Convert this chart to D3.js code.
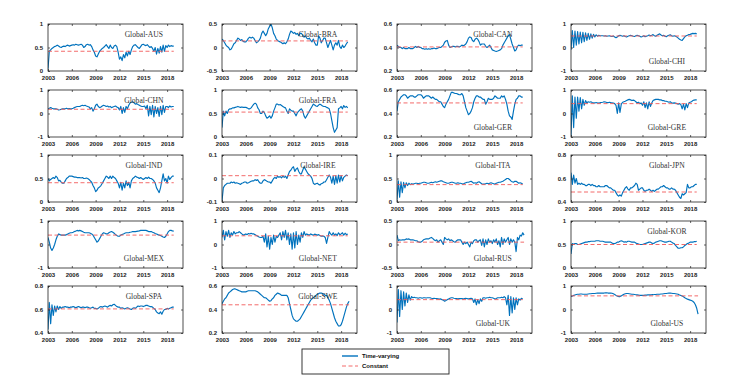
<!DOCTYPE html>
<html>
<head>
<meta charset="utf-8">
<script src="https://cdn.jsdelivr.net/npm/d3@7"></script>
<style>
  html, body { margin: 0; padding: 0; background: #fff; }
  svg { display: block; }
  .tick text { font-family: "Liberation Sans", Arial, sans-serif; font-weight: bold; font-size: 6px; fill: #222; }
  .tick line { stroke: #222; stroke-width: 0.7; }
  .ptitle { font-family: "Liberation Serif", "Times New Roman", serif; font-size: 7.6px; fill: #333; }
  .leg { font-family: "Liberation Sans", Arial, sans-serif; font-weight: bold; font-size: 6px; fill: #111; }
</style>
</head>
<body>
<svg id="chart" width="755" height="392"></svg>
<script>
// time axis: first observation in 2003, one value every two months
const startYear = 2003;
const step = 1 / 6;
const yearTicks = [2003, 2006, 2009, 2012, 2015, 2018];
const xDomain = [2003, 2020];

const countries = ["AUS", "BRA", "CAN", "CHI", "CHN", "FRA", "GER", "GRE", "IND", "IRE",
                   "ITA", "JPN", "MEX", "NET", "RUS", "KOR", "SPA", "SWE", "UK", "US"];

const yDomains = [
  [0, 1], [-0.5, 0.5], [0.2, 0.6], [-1, 1],
  [-1, 1], [0, 1], [0.2, 0.6], [-1, 1],
  [0, 1], [-0.1, 0.1], [0, 1], [0.4, 0.8],
  [-1, 1], [-1, 1], [-0.5, 0.5], [0, 1],
  [0.4, 0.8], [0.2, 0.6], [-1, 1], [-1, 1]
];

// constant (full-sample) correlation
const constants = [0.42, 0.14, 0.405, 0.49, 0.18, 0.53, 0.49, 0.42, 0.41, 0.012,
                   0.37, 0.485, 0.4, 0.37, 0.05, 0.5, 0.605, 0.44, 0.42, 0.58];

// time-varying correlation, one row per year
const tvAUS = [
  0.05, 0.42, 0.45, 0.48, 0.5, 0.52,
  0.53, 0.55, 0.53, 0.51, 0.5, 0.52,
  0.53, 0.52, 0.54, 0.55, 0.53, 0.54,
  0.55, 0.56, 0.55, 0.57, 0.56, 0.55,
  0.56, 0.57, 0.55, 0.5, 0.52, 0.56,
  0.57, 0.55, 0.56, 0.52, 0.45, 0.4,
  0.32, 0.3, 0.36, 0.42, 0.45, 0.48,
  0.5, 0.53, 0.56, 0.52, 0.48, 0.55,
  0.5, 0.48, 0.53, 0.55, 0.52, 0.4,
  0.25, 0.3, 0.22, 0.35, 0.28, 0.4,
  0.32, 0.42, 0.35, 0.45, 0.52, 0.55,
  0.56, 0.53, 0.5, 0.48, 0.52, 0.56,
  0.57, 0.55, 0.54, 0.56, 0.53, 0.5,
  0.52, 0.48, 0.42, 0.5, 0.36, 0.48,
  0.38, 0.52, 0.4, 0.55, 0.42, 0.54,
  0.5, 0.55, 0.52, 0.54, 0.53, 0.53
];
const tvBRA = [
  0.18, 0.15, 0.1, 0.05, 0.02, 0.0,
  -0.05, -0.03, 0.02, 0.08, 0.1, 0.15,
  0.2, 0.18, 0.15, 0.17, 0.13, 0.12,
  0.12, 0.15, 0.2, 0.22, 0.2, 0.22,
  0.2, 0.15, 0.1, 0.12, 0.15, 0.2,
  0.3, 0.35, 0.3, 0.25, 0.3, 0.4,
  0.45, 0.5, 0.42, 0.3, 0.25, 0.18,
  0.15, 0.13, 0.12, 0.1, 0.08, 0.1,
  0.08, 0.12, 0.18, 0.28, 0.35, 0.33,
  0.3, 0.32, 0.28, 0.3, 0.25, 0.3,
  0.3, 0.26, 0.22, 0.25, 0.2, 0.18,
  0.2, 0.15, 0.12, 0.18, 0.1, 0.05,
  0.05, 0.25, 0.2, 0.1, 0.15, 0.2,
  0.2, 0.1, 0.0, 0.08, 0.15, 0.05,
  -0.05, 0.05, 0.1, 0.05, 0.15, 0.02,
  -0.02, 0.05, 0.0, 0.03, 0.08, 0.12
];
const tvCAN = [
  0.42, 0.41, 0.4, 0.4, 0.39, 0.4,
  0.39, 0.39, 0.39, 0.4, 0.39, 0.39,
  0.39, 0.4, 0.41, 0.4, 0.41, 0.4,
  0.4, 0.39, 0.39, 0.385, 0.39, 0.385,
  0.39, 0.385, 0.39, 0.39, 0.395, 0.39,
  0.39, 0.395, 0.4, 0.4, 0.41, 0.42,
  0.445, 0.455, 0.46, 0.42, 0.4, 0.405,
  0.41, 0.41, 0.405, 0.41, 0.41, 0.405,
  0.41, 0.42, 0.415, 0.42, 0.43, 0.45,
  0.48, 0.49, 0.485, 0.46, 0.45, 0.47,
  0.48, 0.47, 0.45, 0.42, 0.43, 0.43,
  0.43, 0.41, 0.4, 0.41, 0.42, 0.4,
  0.38, 0.375, 0.37, 0.366, 0.37, 0.375,
  0.38, 0.39, 0.42, 0.44, 0.46, 0.48,
  0.5, 0.51, 0.47, 0.43, 0.4, 0.37,
  0.38, 0.41, 0.42, 0.415, 0.42, 0.42
];
const tvCHI = [
  -0.1, 0.72, 0.0, 0.7, 0.1, 0.68,
  0.15, 0.66, 0.2, 0.65, 0.25, 0.62,
  0.3, 0.6, 0.35, 0.58, 0.4, 0.56,
  0.45, 0.54, 0.48, 0.52, 0.5, 0.5,
  0.5, 0.49, 0.5, 0.48, 0.49, 0.5,
  0.48, 0.47, 0.49, 0.45, 0.42, 0.45,
  0.5, 0.52, 0.5, 0.48, 0.5, 0.47,
  0.45, 0.48, 0.5, 0.52, 0.5, 0.48,
  0.47, 0.5, 0.52, 0.5, 0.48, 0.45,
  0.47, 0.5, 0.46, 0.48, 0.5, 0.53,
  0.5, 0.52, 0.55, 0.5, 0.48, 0.52,
  0.55, 0.58, 0.53, 0.5, 0.52, 0.48,
  0.46, 0.5, 0.52, 0.54, 0.5, 0.48,
  0.5, 0.48, 0.45, 0.4, 0.35, 0.32,
  0.3, 0.38, 0.45, 0.5, 0.52, 0.55,
  0.56, 0.58, 0.6, 0.59, 0.6, 0.58
];
const tvCHN = [
  0.2, 0.22, 0.25, 0.22, 0.2, 0.2,
  0.2, 0.18, 0.15, 0.16, 0.18, 0.2,
  0.2, 0.2, 0.22, 0.2, 0.21, 0.2,
  0.2, 0.22, 0.25, 0.28, 0.3, 0.3,
  0.3, 0.33, 0.35, 0.33, 0.35, 0.32,
  0.3, 0.28, 0.2, 0.25, 0.1, 0.2,
  0.35, 0.4, 0.3, 0.25, 0.28, 0.32,
  0.35, 0.33, 0.3, 0.32, 0.28, 0.3,
  0.25, 0.28, 0.3, 0.32, 0.28, 0.25,
  0.15, 0.3, 0.0, 0.25, 0.05, 0.3,
  0.2, 0.35, 0.45, 0.48, 0.5, 0.45,
  0.4, 0.42, 0.38, 0.35, 0.32, 0.3,
  0.3, 0.32, 0.2, 0.35, -0.1, 0.3,
  -0.05, 0.35, -0.15, 0.3, 0.0, 0.25,
  -0.12, 0.3, -0.05, 0.35, 0.05, 0.3,
  0.3, 0.25, 0.32, 0.28, 0.3, 0.3
];
const tvFRA = [
  0.2, 0.55, 0.45, 0.55, 0.5, 0.58,
  0.6, 0.6, 0.62, 0.62, 0.63, 0.64,
  0.65, 0.64, 0.63, 0.64, 0.63, 0.63,
  0.63, 0.62, 0.6, 0.6, 0.62, 0.66,
  0.7, 0.72, 0.7, 0.62, 0.58, 0.5,
  0.5, 0.55, 0.52, 0.45, 0.4, 0.42,
  0.45, 0.4, 0.45, 0.55, 0.62, 0.7,
  0.7, 0.68, 0.69, 0.67, 0.65, 0.63,
  0.62, 0.55, 0.5, 0.6, 0.57, 0.55,
  0.55, 0.5, 0.45, 0.52, 0.55, 0.58,
  0.6, 0.55, 0.45, 0.4, 0.45, 0.5,
  0.55, 0.6, 0.65, 0.7, 0.68, 0.66,
  0.65, 0.68, 0.7, 0.68, 0.66, 0.65,
  0.65, 0.63, 0.62, 0.6, 0.5, 0.35,
  0.2, 0.1, 0.15, 0.2, 0.6, 0.62,
  0.65, 0.6, 0.67, 0.63, 0.65, 0.62
];
const tvGER = [
  0.42, 0.5, 0.52, 0.54, 0.55, 0.56,
  0.56, 0.55, 0.53, 0.54, 0.55, 0.55,
  0.55, 0.54, 0.54, 0.55, 0.56, 0.56,
  0.56, 0.55, 0.53, 0.54, 0.55, 0.55,
  0.55, 0.54, 0.53, 0.54, 0.53, 0.52,
  0.52, 0.51, 0.5, 0.5, 0.48, 0.46,
  0.45, 0.48, 0.5, 0.52, 0.55, 0.58,
  0.58, 0.575, 0.57, 0.57, 0.565, 0.56,
  0.56, 0.57, 0.55, 0.5, 0.45, 0.42,
  0.39, 0.4, 0.42, 0.45, 0.5, 0.53,
  0.55, 0.55, 0.54, 0.54, 0.53, 0.52,
  0.52, 0.48, 0.5, 0.53, 0.52, 0.52,
  0.52, 0.53, 0.55, 0.54, 0.53, 0.53,
  0.53, 0.55, 0.54, 0.55, 0.52, 0.48,
  0.42, 0.38, 0.37, 0.35, 0.42, 0.48,
  0.52, 0.53, 0.55, 0.55, 0.54, 0.54
];
const tvGRE = [
  -0.95, 0.75, -0.6, 0.7, -0.2, 0.7,
  0.1, 0.68, 0.2, 0.6, 0.35, 0.55,
  0.45, 0.5, 0.48, 0.5, 0.47, 0.45,
  0.45, 0.47, 0.45, 0.44, 0.46, 0.47,
  0.48, 0.5, 0.49, 0.47, 0.46, 0.48,
  0.47, 0.45, 0.44, 0.42, 0.35, 0.0,
  0.45, 0.05, 0.4, 0.48, 0.5, 0.52,
  0.55, 0.58, 0.6, 0.58, 0.55, 0.57,
  0.55, 0.5, 0.45, 0.48, 0.42, 0.45,
  0.35, 0.5, 0.25, 0.45, 0.2, 0.5,
  0.3, 0.45, 0.55, 0.58, 0.6, 0.6,
  0.6, 0.58, 0.58, 0.55, 0.55, 0.52,
  0.52, 0.5, 0.48, 0.5, 0.45, 0.44,
  0.45, 0.44, 0.42, 0.4, 0.42, 0.38,
  0.2, 0.4, 0.15, 0.42, 0.25, 0.45,
  0.48, 0.5, 0.55, 0.57, 0.58, 0.58
];
const tvIND = [
  0.5, 0.45, 0.48, 0.5, 0.52, 0.5,
  0.55, 0.52, 0.45, 0.46, 0.42, 0.4,
  0.4, 0.45, 0.5, 0.52, 0.55, 0.55,
  0.55, 0.54, 0.53, 0.53, 0.52, 0.52,
  0.52, 0.51, 0.52, 0.5, 0.5, 0.51,
  0.5, 0.48, 0.45, 0.42, 0.35, 0.3,
  0.22, 0.25, 0.3, 0.32, 0.35, 0.4,
  0.45, 0.5, 0.55, 0.53, 0.5, 0.55,
  0.5, 0.55, 0.52, 0.5, 0.45, 0.4,
  0.3, 0.42, 0.25, 0.4, 0.3, 0.45,
  0.35, 0.42, 0.3, 0.45, 0.5, 0.52,
  0.55, 0.53, 0.52, 0.5, 0.52, 0.5,
  0.48, 0.5, 0.52, 0.5, 0.53, 0.5,
  0.5, 0.48, 0.45, 0.4, 0.3, 0.25,
  0.2, 0.3, 0.45, 0.6, 0.45, 0.5,
  0.4, 0.55, 0.48, 0.52, 0.55, 0.55
];
const tvIRE = [
  -0.095, -0.04, -0.03, -0.025, -0.02, -0.02,
  -0.02, -0.015, -0.018, -0.015, -0.02, -0.018,
  -0.02, -0.022, -0.025, -0.02, -0.018, -0.015,
  -0.015, -0.02, -0.018, -0.015, -0.012, -0.01,
  -0.01, -0.005, -0.008, -0.005, -0.015, -0.02,
  -0.02, -0.01, -0.005, -0.008, -0.012, -0.015,
  -0.015, -0.02, -0.01, 0.0, 0.005, 0.0,
  0.01, 0.005, 0.008, 0.003, 0.01, 0.005,
  0.01, 0.0, 0.015, 0.03, 0.035, 0.045,
  0.05, 0.03, 0.04, 0.045, 0.03, 0.02,
  0.02, 0.035, 0.05, 0.04, 0.03, 0.02,
  0.015, 0.01, 0.0, -0.02, -0.025, -0.022,
  -0.02, -0.025, -0.028, -0.022, -0.02, -0.015,
  -0.015, -0.005, 0.005, 0.015, 0.005, -0.02,
  0.01, -0.025, 0.012, -0.02, 0.015, -0.015,
  0.012, -0.01, 0.005, 0.01, 0.015, 0.012
];
const tvITA = [
  0.05, 0.45, 0.1, 0.43, 0.2, 0.42,
  0.3, 0.41, 0.35, 0.4, 0.37, 0.39,
  0.38, 0.39, 0.4, 0.4, 0.39, 0.4,
  0.4, 0.41, 0.42, 0.42, 0.41, 0.4,
  0.4, 0.41, 0.42, 0.41, 0.42, 0.43,
  0.42, 0.43, 0.44, 0.45, 0.45, 0.43,
  0.42, 0.41, 0.4, 0.4, 0.41, 0.42,
  0.42, 0.41, 0.4, 0.4, 0.41, 0.4,
  0.4, 0.39, 0.38, 0.4, 0.41, 0.42,
  0.42, 0.43, 0.44, 0.42, 0.4, 0.41,
  0.4, 0.42, 0.43, 0.41, 0.39, 0.38,
  0.38, 0.39, 0.4, 0.39, 0.4, 0.41,
  0.4, 0.39, 0.38, 0.4, 0.41, 0.42,
  0.42, 0.43, 0.44, 0.46, 0.48, 0.5,
  0.5, 0.48, 0.45, 0.43, 0.42, 0.44,
  0.44, 0.42, 0.4, 0.41, 0.4, 0.38
];
const tvJPN = [
  0.65, 0.55, 0.63, 0.56, 0.6, 0.55,
  0.56, 0.55, 0.56, 0.55, 0.55, 0.54,
  0.54, 0.55, 0.55, 0.54, 0.55, 0.54,
  0.54, 0.53, 0.53, 0.54, 0.53, 0.53,
  0.53, 0.53, 0.54, 0.54, 0.53, 0.52,
  0.52, 0.51, 0.5, 0.5, 0.48, 0.46,
  0.45, 0.46, 0.45, 0.48, 0.5, 0.52,
  0.53, 0.51, 0.5, 0.52, 0.52, 0.53,
  0.54, 0.56, 0.55, 0.5, 0.51, 0.52,
  0.52, 0.5, 0.49, 0.5, 0.5, 0.51,
  0.5, 0.49, 0.5, 0.49, 0.5, 0.51,
  0.51, 0.52, 0.53, 0.53, 0.54, 0.53,
  0.52, 0.52, 0.51, 0.51, 0.52, 0.51,
  0.51, 0.5, 0.48, 0.46, 0.44, 0.43,
  0.47, 0.46, 0.47, 0.48, 0.55, 0.52,
  0.52, 0.53, 0.53, 0.54, 0.55, 0.55
];
const tvMEX = [
  0.3, 0.1, -0.15, -0.25, -0.15, 0.0,
  0.2, 0.35, 0.45, 0.42, 0.4, 0.4,
  0.4, 0.4, 0.42, 0.45, 0.48, 0.5,
  0.5, 0.52, 0.55, 0.57, 0.6, 0.58,
  0.6, 0.58, 0.55, 0.52, 0.5, 0.5,
  0.5, 0.5, 0.48, 0.45, 0.4, 0.3,
  0.2, 0.1, 0.15, 0.25, 0.35, 0.45,
  0.5, 0.48, 0.45, 0.45, 0.5, 0.53,
  0.55, 0.52, 0.48, 0.42, 0.38, 0.35,
  0.35, 0.4, 0.43, 0.45, 0.48, 0.5,
  0.5, 0.5, 0.52, 0.53, 0.55, 0.55,
  0.55, 0.56, 0.57, 0.58, 0.6, 0.6,
  0.6, 0.6, 0.6, 0.58, 0.55, 0.55,
  0.55, 0.52, 0.5, 0.47, 0.45, 0.42,
  0.4, 0.38, 0.35, 0.32, 0.3, 0.35,
  0.45, 0.55, 0.6, 0.6, 0.58, 0.57
];
const tvNET = [
  0.3, 0.6, 0.2, 0.55, 0.35, 0.6,
  0.3, 0.5, 0.4, 0.55, 0.45, 0.5,
  0.5, 0.55, 0.5, 0.45, 0.4, 0.42,
  0.45, 0.42, 0.47, 0.45, 0.48, 0.45,
  0.45, 0.42, 0.38, 0.35, 0.32, 0.3,
  0.3, 0.35, 0.1, 0.45, -0.1, 0.35,
  -0.2, 0.3, 0.0, 0.4, 0.1, 0.35,
  0.3, 0.4, 0.5, 0.2, 0.55, 0.3,
  0.6, 0.2, 0.5, 0.0, 0.45, -0.2,
  0.5, -0.15, 0.55, 0.0, 0.4, 0.1,
  0.5, 0.3, 0.55, 0.4, 0.45, 0.42,
  0.4, 0.45, 0.42, 0.4, 0.44, 0.42,
  0.4, 0.42, 0.38, 0.35, 0.36, 0.35,
  0.3, 0.05, 0.3, 0.55, 0.45, 0.4,
  0.5, 0.4, 0.45, 0.38, 0.5, 0.42,
  0.45, 0.5, 0.4, 0.48, 0.42, 0.45
];
const tvRUS = [
  0.2, 0.08, 0.1, 0.09, 0.1, 0.1,
  0.1, 0.12, 0.11, 0.12, 0.1, 0.1,
  0.1, 0.09, 0.08, 0.08, 0.06, 0.05,
  0.05, 0.07, 0.1, 0.11, 0.12, 0.12,
  0.12, 0.14, 0.15, 0.13, 0.1, 0.08,
  0.1, 0.05, 0.08, 0.1, 0.05, 0.0,
  0.15, 0.12, 0.1, 0.12, 0.08, 0.1,
  0.08, 0.06, 0.05, 0.08, 0.1, 0.1,
  0.1, 0.05, 0.0, 0.05, 0.02, 0.05,
  0.0, -0.05, 0.05, 0.02, 0.08, 0.1,
  0.1, 0.05, 0.08, 0.1, -0.02, 0.12,
  -0.05, 0.1, 0.0, 0.12, 0.05, 0.08,
  0.02, 0.1, 0.05, 0.12, 0.0, 0.08,
  -0.05, 0.15, 0.0, 0.12, 0.05, 0.1,
  0.15, 0.0, 0.12, 0.05, 0.1, 0.05,
  -0.15, 0.15, 0.1, 0.2, 0.18, 0.25,
  0.2
];
const tvKOR = [
  0.3, 0.52, 0.5, 0.52, 0.52, 0.5,
  0.5, 0.51, 0.52, 0.53, 0.54, 0.55,
  0.55, 0.56, 0.56, 0.57, 0.57, 0.57,
  0.57, 0.58, 0.58, 0.58, 0.57, 0.57,
  0.57, 0.56, 0.55, 0.55, 0.55, 0.55,
  0.55, 0.53, 0.52, 0.52, 0.53, 0.55,
  0.55, 0.57, 0.58, 0.57, 0.55, 0.56,
  0.55, 0.57, 0.57, 0.56, 0.55, 0.55,
  0.55, 0.53, 0.52, 0.51, 0.5, 0.5,
  0.5, 0.51, 0.52, 0.53, 0.54, 0.55,
  0.55, 0.53, 0.52, 0.53, 0.55, 0.56,
  0.57, 0.58, 0.58, 0.57, 0.56, 0.55,
  0.55, 0.56, 0.57, 0.57, 0.55, 0.53,
  0.52, 0.48, 0.45, 0.42, 0.42, 0.43,
  0.43, 0.45, 0.48, 0.5, 0.52, 0.53,
  0.55, 0.55, 0.55, 0.56, 0.56, 0.57
];
const tvSPA = [
  0.43, 0.66, 0.48, 0.64, 0.55, 0.63,
  0.58, 0.63, 0.6, 0.625, 0.61, 0.62,
  0.62, 0.625, 0.62, 0.62, 0.615, 0.62,
  0.62, 0.625, 0.62, 0.615, 0.62, 0.625,
  0.62, 0.615, 0.62, 0.62, 0.615, 0.62,
  0.62, 0.615, 0.61, 0.615, 0.62, 0.61,
  0.61, 0.605, 0.61, 0.62, 0.625, 0.62,
  0.625, 0.63, 0.625, 0.62, 0.63, 0.635,
  0.63, 0.64, 0.645, 0.635, 0.625, 0.62,
  0.62, 0.61, 0.615, 0.61, 0.605, 0.61,
  0.615, 0.61, 0.605, 0.6, 0.61, 0.615,
  0.61, 0.62, 0.63, 0.625, 0.63, 0.63,
  0.625, 0.63, 0.635, 0.635, 0.63, 0.625,
  0.625, 0.62, 0.61, 0.6, 0.58, 0.57,
  0.565, 0.58, 0.56, 0.585, 0.6, 0.6,
  0.61, 0.605, 0.61, 0.615, 0.62, 0.62
];
const tvSWE = [
  0.45, 0.47, 0.49, 0.5, 0.52, 0.54,
  0.55, 0.56, 0.57, 0.575, 0.575, 0.57,
  0.565, 0.56, 0.555, 0.55, 0.55, 0.55,
  0.55, 0.555, 0.56, 0.56, 0.56, 0.56,
  0.56, 0.56, 0.555, 0.55, 0.54, 0.53,
  0.52, 0.51, 0.5, 0.5, 0.49, 0.48,
  0.47, 0.475, 0.49, 0.5, 0.52, 0.53,
  0.54, 0.535, 0.53, 0.52, 0.52, 0.52,
  0.52, 0.52, 0.5, 0.45, 0.4, 0.35,
  0.32, 0.31, 0.3, 0.3, 0.31, 0.32,
  0.34, 0.36, 0.38, 0.4, 0.42, 0.44,
  0.46, 0.48, 0.49, 0.5, 0.51, 0.52,
  0.53, 0.535, 0.54, 0.54, 0.535, 0.53,
  0.52, 0.52, 0.5, 0.48, 0.45, 0.41,
  0.37, 0.33, 0.3, 0.28, 0.26, 0.26,
  0.27, 0.3, 0.34, 0.38, 0.42, 0.45,
  0.47
];
const tvUK = [
  -0.55, 0.85, -0.3, 0.8, 0.0, 0.75,
  0.15, 0.7, 0.3, 0.62, 0.4, 0.55,
  0.5, 0.52, 0.5, 0.5, 0.48, 0.5,
  0.5, 0.48, 0.5, 0.5, 0.49, 0.5,
  0.5, 0.5, 0.48, 0.47, 0.48, 0.47,
  0.46, 0.45, 0.44, 0.45, 0.42, 0.4,
  0.35, 0.38, 0.42, 0.45, 0.48, 0.5,
  0.5, 0.48, 0.47, 0.46, 0.45, 0.46,
  0.47, 0.46, 0.45, 0.47, 0.48, 0.46,
  0.45, 0.47, 0.48, 0.46, 0.3, 0.45,
  0.2, 0.42, 0.25, 0.45, 0.35, 0.5,
  0.5, 0.48, 0.5, 0.5, 0.52, 0.5,
  0.5, 0.48, 0.45, 0.47, 0.5, 0.5,
  0.5, 0.52, 0.5, 0.55, 0.5, 0.2,
  0.6, -0.25, 0.55, -0.15, 0.5, 0.0,
  0.5, 0.2, 0.45, 0.4, 0.48, 0.45
];
const tvUS = [
  0.55, 0.57, 0.6, 0.62, 0.64, 0.65,
  0.65, 0.66, 0.66, 0.65, 0.65, 0.65,
  0.65, 0.66, 0.67, 0.67, 0.68, 0.68,
  0.68, 0.69, 0.7, 0.7, 0.7, 0.7,
  0.7, 0.7, 0.71, 0.71, 0.7, 0.7,
  0.7, 0.69, 0.67, 0.64, 0.6, 0.57,
  0.55, 0.55, 0.58, 0.62, 0.65, 0.67,
  0.68, 0.68, 0.67, 0.66, 0.65, 0.65,
  0.64, 0.63, 0.62, 0.61, 0.6, 0.6,
  0.6, 0.6, 0.61, 0.61, 0.62, 0.62,
  0.62, 0.63, 0.63, 0.64, 0.64, 0.65,
  0.65, 0.65, 0.66, 0.66, 0.67, 0.68,
  0.68, 0.69, 0.7, 0.7, 0.69, 0.68,
  0.68, 0.67, 0.66, 0.65, 0.62, 0.6,
  0.57, 0.54, 0.5, 0.47, 0.44, 0.42,
  0.4, 0.38, 0.35, 0.3, 0.2, 0.05,
  -0.2
];

const series = [tvAUS, tvBRA, tvCAN, tvCHI, tvCHN, tvFRA, tvGER, tvGRE, tvIND, tvIRE,
                tvITA, tvJPN, tvMEX, tvNET, tvRUS, tvKOR, tvSPA, tvSWE, tvUK, tvUS];

// layout
const colX = [48, 222, 397, 571];
const rowY = [24, 90, 155, 221, 286];
const PW = 135, PH = 47;
const titleBottom = new Set(["CHI", "GER", "GRE", "MEX", "NET", "RUS", "UK", "US"]);
const BLUE = "#0072BD", RED = "#f25a5a";

const svg = d3.select("#chart");
const fmt = v => String(+v.toFixed(2));

countries.forEach((c, i) => {
  const col = i % 4, row = Math.floor(i / 4);
  const dom = yDomains[i];
  const vals = series[i];
  const g = svg.append("g").attr("transform", `translate(${colX[col]},${rowY[row]})`);

  const x = d3.scaleLinear().domain(xDomain).range([0, PW]);
  const y = d3.scaleLinear().domain(dom).range([PH, 0]);
  const yt = [dom[0], (dom[0] + dom[1]) / 2, dom[1]];
  const tOf = j => startYear + j * step;

  g.append("clipPath").attr("id", "clip" + i)
    .append("rect").attr("width", PW).attr("height", PH);

  g.append("path")
    .datum(vals)
    .attr("clip-path", `url(#clip${i})`)
    .attr("fill", "none")
    .attr("stroke", BLUE)
    .attr("stroke-width", 1.15)
    .attr("stroke-linejoin", "round")
    .attr("d", d3.line().x((d, j) => x(tOf(j))).y(d => y(d)));

  g.append("line")
    .attr("x1", x(startYear)).attr("x2", x(tOf(vals.length - 1)))
    .attr("y1", y(constants[i])).attr("y2", y(constants[i]))
    .attr("stroke", RED).attr("stroke-width", 0.9)
    .attr("stroke-dasharray", "4,2.5");

  // MATLAB-style box with inward ticks on all four sides
  g.append("g").attr("transform", `translate(0,${PH})`)
    .call(d3.axisBottom(x).tickValues(yearTicks).tickSize(-2).tickPadding(5).tickFormat(d3.format("d")))
    .call(s => s.select(".domain").remove());
  g.append("g")
    .call(d3.axisTop(x).tickValues(yearTicks).tickSize(-2).tickFormat(""))
    .call(s => s.select(".domain").remove());
  g.append("g")
    .call(d3.axisLeft(y).tickValues(yt).tickSize(-2).tickPadding(5).tickFormat(fmt))
    .call(s => s.select(".domain").remove());
  g.append("g").attr("transform", `translate(${PW},0)`)
    .call(d3.axisRight(y).tickValues(yt).tickSize(-2).tickFormat(""))
    .call(s => s.select(".domain").remove());

  g.append("rect")
    .attr("width", PW).attr("height", PH)
    .attr("fill", "none").attr("stroke", "#222").attr("stroke-width", 0.8);

  g.append("text")
    .attr("class", "ptitle")
    .attr("x", PW * 0.71)
    .attr("y", PH * (titleBottom.has(c) ? 0.8 : 0.22))
    .attr("dy", "0.35em")
    .attr("text-anchor", "middle")
    .text("Global-" + c);
});

// legend
const leg = svg.append("g").attr("transform", "translate(302,349)");
leg.append("rect").attr("width", 147).attr("height", 25)
  .attr("fill", "#fff").attr("stroke", "#222").attr("stroke-width", 0.9);
leg.append("line").attr("x1", 40).attr("x2", 56).attr("y1", 7).attr("y2", 7)
  .attr("stroke", BLUE).attr("stroke-width", 1.4);
leg.append("line").attr("x1", 40).attr("x2", 56).attr("y1", 17).attr("y2", 17)
  .attr("stroke", RED).attr("stroke-width", 0.9).attr("stroke-dasharray", "4,2.5");
leg.append("text").attr("class", "leg").attr("x", 60).attr("y", 7).attr("dy", "0.35em").text("Time-varying");
leg.append("text").attr("class", "leg").attr("x", 60).attr("y", 17).attr("dy", "0.35em").text("Constant");
</script>
</body>
</html>
